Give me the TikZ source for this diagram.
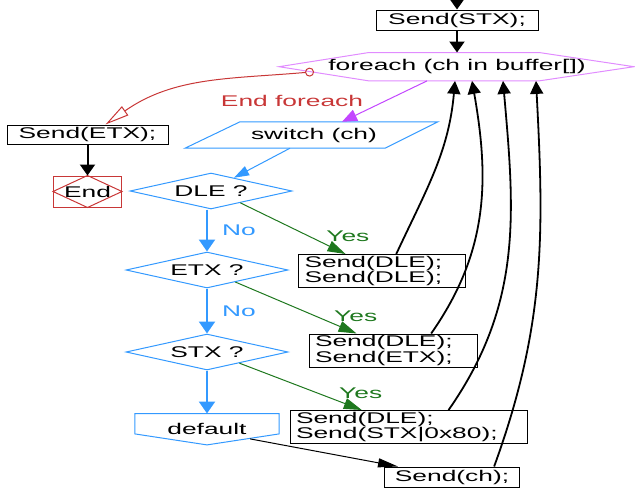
\documentclass[tikz,border=0pt]{standalone}
\usepackage{fontspec}
\setmainfont{Liberation Sans}[FakeStretch=1.7]
\usepackage{tikz}
\usetikzlibrary{shapes.geometric,arrows.meta,positioning}
\definecolor{flowblue}{RGB}{51,153,255}
\definecolor{yesgreen}{RGB}{30,120,30}
\definecolor{endred}{RGB}{200,55,55}
\definecolor{loopmag}{RGB}{225,140,255}
\definecolor{loopvio}{RGB}{195,70,255}
\tikzset{every node/.style={font=\fontsize{15.5}{13}\selectfont,inner sep=0pt},
  stmt/.style={draw,line width=1pt,minimum height=20pt,align=center},
  stmt2/.style={draw,line width=1pt,minimum height=33pt,inner xsep=6pt,align=left},
  test/.style={diamond,draw=flowblue,line width=1pt,aspect=4.5,minimum width=162pt,minimum height=36pt},
  endbox/.style={draw=endred,line width=1pt,minimum width=68pt,minimum height=31pt},
  blk/.style={line width=2pt,-{Triangle[length=11pt,width=15pt]}},
  ret/.style={line width=1.8pt,-{Triangle[length=13pt,width=13pt]}},
  endarr/.style={endred,line width=1pt,{Circle[open,length=9pt,width=9pt]}-{Triangle[open,length=24pt,width=11pt]}},
  magarr/.style={loopvio,line width=1pt,-{Triangle[length=15pt,width=12pt]}},
  noarr/.style={flowblue,line width=2.2pt,-{Triangle[length=12pt,width=16pt]}},
  casearr/.style={flowblue,line width=1pt,-{Triangle[length=15pt,width=10pt]}},
  yesarr/.style={yesgreen,line width=1pt,-{Triangle[length=18pt,width=11pt]}},
  dflarr/.style={line width=1pt,-{Triangle[length=20pt,width=9pt]}}}
\begin{document}
\begin{tikzpicture}[x=1pt,y=-1pt]
    \useasboundingbox (0,0) rectangle (635,488);
    \coordinate (top) at (457,0);
    \node[stmt,minimum width=162pt] (stx) at (457,20) {Send(STX);};
    \node[minimum height=28pt] (fe) [below=22pt of stx] {foreach (ch in buffer[])};
    \draw[loopmag,line width=1pt] ([xshift=-178pt]fe.center) -- ([xshift=-88pt]fe.north) -- ([xshift=82pt]fe.north)
      -- ([xshift=177pt]fe.center) -- ([xshift=82pt]fe.south) -- ([xshift=-88pt]fe.south) -- cycle;
    \coordinate (feout) at ([xshift=-143pt,yshift=-5pt]fe.center);
    \node[stmt,minimum width=161pt,minimum height=19pt] (etx) at (87.5,134.5) {Send(ETX);};
    \node[endbox] (end) [below=31pt of etx] {End};
    \draw[endred,line width=1pt] (end.north) -- (end.east) -- (end.south) -- (end.west) -- cycle;
    \node[text=endred] (efl) at (292,101) {End foreach};
    \node[minimum height=26pt] (sw) at (314,135) {switch (ch)};
    \draw[flowblue,line width=1pt] ([xshift=-129pt]sw.south) -- ([xshift=-74pt]sw.north) -- ([xshift=124pt]sw.north)
      -- ([xshift=71pt]sw.south) -- cycle;
    \node[test] (dle) at (211,191) {DLE ?};
    \node[test] (etxq) at (207,270) {ETX ?};
    \node[test] (stxq) [below=45pt of etxq] {STX ?};
    \node[minimum width=144pt,minimum height=31pt] (dflt) [below=43pt of stxq] {default};
    \draw[flowblue,line width=1pt] (dflt.north west) -- (dflt.north east) -- ([yshift=11pt]dflt.south east)
      -- (dflt.south) -- ([yshift=11pt]dflt.south west) -- cycle;
    \node[stmt2,text width=155pt] (b1) at (382,271) {Send(DLE);\\Send(DLE);};
    \node[stmt2,text width=156pt] (b2) at (393,350.5) {Send(DLE);\\Send(ETX);};
    \node[stmt2,text width=225pt] (b3) at (408.5,427) {Send(DLE);\\Send(STX|0x80);};
    \node[stmt,minimum width=135pt] (ch) at (452,477) {Send(ch);};
    \draw[blk] (top) -- (stx);
    \draw[blk] (stx) -- (fe);
    \draw[blk] (etx) -- (end);
    \draw[endarr] (feout) to[out=185,in=35] ([xshift=18pt]etx.north);
    \draw[magarr] ([xshift=-30pt]fe.south) -- ([xshift=28pt]sw.north);
    \draw[casearr] ([xshift=-24pt]sw.south) -- (dle.30);
    \path[noarr]
    (dle.south -| etxq) edge node[right=14pt,text=flowblue] {No} (etxq.north)
    (etxq.south) edge node[right=14pt,text=flowblue] {No} (stxq.north)
    (stxq.south) edge (dflt.north)
    ;
    \path[yesarr]
    (dle.-22) edge node[pos=.8,above right=2pt,text=yesgreen] {Yes} (b1.155)
    (etxq.-23) edge node[pos=.8,above right=2pt,text=yesgreen] {Yes} (b2.155)
    (stxq.-19) edge node[pos=.8,above right=2pt,text=yesgreen] {Yes} (b3.160)
    ;
    \draw[dflarr] ([yshift=6pt]dflt.-20) -- (ch.169);
    \path[ret]
    (b1.50) edge[out=65,in=-95] ([xshift=-2pt]fe.south)
    (b2.24) edge[out=55,in=-80] ([xshift=15pt]fe.south)
    (b3.23) edge[out=55,in=-85] ([xshift=46pt]fe.south)
    (ch.14) edge[out=70,in=-87] ([xshift=79pt]fe.south)
    ;
\end{tikzpicture}
\end{document}
